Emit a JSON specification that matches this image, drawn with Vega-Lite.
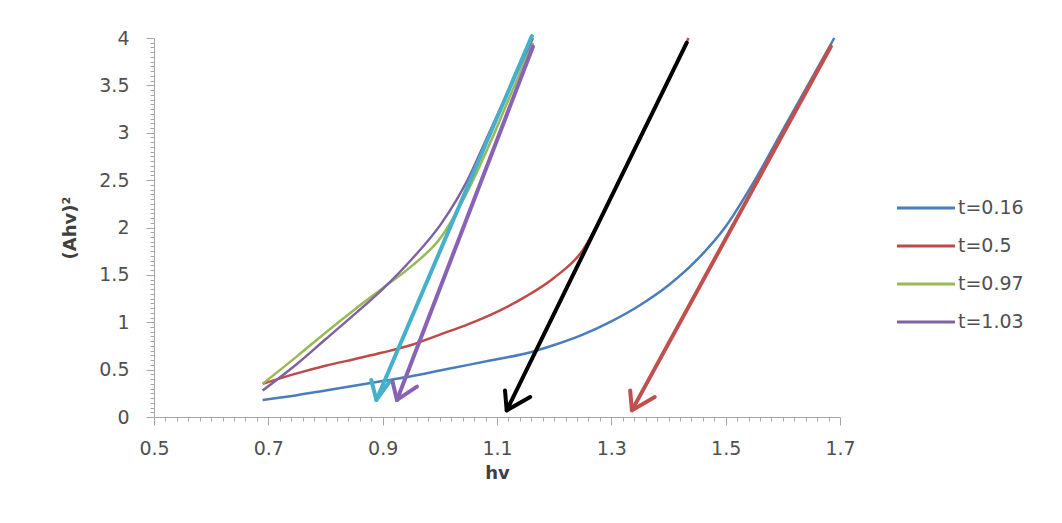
{
  "$schema": "https://vega.github.io/schema/vega-lite/v6.json",
  "width": 686,
  "height": 379,
  "autosize": {"type": "none"},
  "padding": {"left": 154, "top": 38, "right": 222, "bottom": 106},
  "background": "white",
  "config": {"view": {"stroke": null}, "font": "DejaVu Sans"},
  "datasets": {
    "curves": [
      {"series": "t=0.16", "x": 0.69, "y": 0.18}, {"series": "t=0.16", "x": 0.75, "y": 0.23}, {"series": "t=0.16", "x": 0.80, "y": 0.28}, {"series": "t=0.16", "x": 0.85, "y": 0.33}, {"series": "t=0.16", "x": 0.90, "y": 0.38}, {"series": "t=0.16", "x": 0.95, "y": 0.43}, {"series": "t=0.16", "x": 1.00, "y": 0.49}, {"series": "t=0.16", "x": 1.05, "y": 0.55}, {"series": "t=0.16", "x": 1.10, "y": 0.61}, {"series": "t=0.16", "x": 1.15, "y": 0.67}, {"series": "t=0.16", "x": 1.20, "y": 0.76}, {"series": "t=0.16", "x": 1.25, "y": 0.87}, {"series": "t=0.16", "x": 1.30, "y": 1.01}, {"series": "t=0.16", "x": 1.35, "y": 1.18}, {"series": "t=0.16", "x": 1.40, "y": 1.39}, {"series": "t=0.16", "x": 1.45, "y": 1.66}, {"series": "t=0.16", "x": 1.50, "y": 2.01}, {"series": "t=0.16", "x": 1.55, "y": 2.49}, {"series": "t=0.16", "x": 1.60, "y": 3.03}, {"series": "t=0.16", "x": 1.65, "y": 3.57}, {"series": "t=0.16", "x": 1.69, "y": 4.0},
      {"series": "t=0.5", "x": 0.69, "y": 0.35}, {"series": "t=0.5", "x": 0.75, "y": 0.46}, {"series": "t=0.5", "x": 0.80, "y": 0.54}, {"series": "t=0.5", "x": 0.85, "y": 0.61}, {"series": "t=0.5", "x": 0.90, "y": 0.68}, {"series": "t=0.5", "x": 0.95, "y": 0.76}, {"series": "t=0.5", "x": 1.00, "y": 0.87}, {"series": "t=0.5", "x": 1.05, "y": 0.98}, {"series": "t=0.5", "x": 1.10, "y": 1.11}, {"series": "t=0.5", "x": 1.15, "y": 1.27}, {"series": "t=0.5", "x": 1.20, "y": 1.47}, {"series": "t=0.5", "x": 1.25, "y": 1.76}, {"series": "t=0.5", "x": 1.28, "y": 2.08}, {"series": "t=0.5", "x": 1.30, "y": 2.33}, {"series": "t=0.5", "x": 1.35, "y": 2.94}, {"series": "t=0.5", "x": 1.40, "y": 3.55}, {"series": "t=0.5", "x": 1.435, "y": 4.0},
      {"series": "t=0.97", "x": 0.69, "y": 0.35}, {"series": "t=0.97", "x": 0.75, "y": 0.64}, {"series": "t=0.97", "x": 0.80, "y": 0.89}, {"series": "t=0.97", "x": 0.85, "y": 1.13}, {"series": "t=0.97", "x": 0.90, "y": 1.36}, {"series": "t=0.97", "x": 0.95, "y": 1.59}, {"series": "t=0.97", "x": 1.00, "y": 1.88}, {"series": "t=0.97", "x": 1.05, "y": 2.40}, {"series": "t=0.97", "x": 1.09, "y": 2.92}, {"series": "t=0.97", "x": 1.125, "y": 3.42}, {"series": "t=0.97", "x": 1.163, "y": 3.95},
      {"series": "t=1.03", "x": 0.69, "y": 0.28}, {"series": "t=1.03", "x": 0.75, "y": 0.56}, {"series": "t=1.03", "x": 0.80, "y": 0.82}, {"series": "t=1.03", "x": 0.85, "y": 1.08}, {"series": "t=1.03", "x": 0.90, "y": 1.35}, {"series": "t=1.03", "x": 0.95, "y": 1.66}, {"series": "t=1.03", "x": 1.00, "y": 2.02}, {"series": "t=1.03", "x": 1.03, "y": 2.30}, {"series": "t=1.03", "x": 1.05, "y": 2.52}, {"series": "t=1.03", "x": 1.07, "y": 2.78}, {"series": "t=1.03", "x": 1.10, "y": 3.18}, {"series": "t=1.03", "x": 1.163, "y": 4.0}
    ],
    "arrows": [
      {"arrow": "cyan", "part": "cyan-shaft", "o": 1, "x": 1.161, "y": 4.02}, {"arrow": "cyan", "part": "cyan-shaft", "o": 2, "x": 0.889, "y": 0.18},
      {"arrow": "cyan", "part": "cyan-head", "o": 1, "x": 0.880, "y": 0.39}, {"arrow": "cyan", "part": "cyan-head", "o": 2, "x": 0.889, "y": 0.18}, {"arrow": "cyan", "part": "cyan-head", "o": 3, "x": 0.913, "y": 0.38},
      {"arrow": "violet", "part": "violet-shaft", "o": 1, "x": 1.163, "y": 3.91}, {"arrow": "violet", "part": "violet-shaft", "o": 2, "x": 0.925, "y": 0.18},
      {"arrow": "violet", "part": "violet-head", "o": 1, "x": 0.917, "y": 0.38}, {"arrow": "violet", "part": "violet-head", "o": 2, "x": 0.925, "y": 0.18}, {"arrow": "violet", "part": "violet-head", "o": 3, "x": 0.960, "y": 0.32},
      {"arrow": "black", "part": "black-shaft", "o": 1, "x": 1.432, "y": 3.95}, {"arrow": "black", "part": "black-shaft", "o": 2, "x": 1.117, "y": 0.07},
      {"arrow": "black", "part": "black-head", "o": 1, "x": 1.114, "y": 0.28}, {"arrow": "black", "part": "black-head", "o": 2, "x": 1.117, "y": 0.07}, {"arrow": "black", "part": "black-head", "o": 3, "x": 1.158, "y": 0.21},
      {"arrow": "red", "part": "red-shaft", "o": 1, "x": 1.684, "y": 3.91}, {"arrow": "red", "part": "red-shaft", "o": 2, "x": 1.336, "y": 0.07},
      {"arrow": "red", "part": "red-head", "o": 1, "x": 1.333, "y": 0.28}, {"arrow": "red", "part": "red-head", "o": 2, "x": 1.336, "y": 0.07}, {"arrow": "red", "part": "red-head", "o": 3, "x": 1.376, "y": 0.21}
    ]
  },
  "encoding": {
    "x": {
      "field": "x", "type": "quantitative",
      "scale": {"domain": [0.5, 1.7], "nice": false, "zero": false},
      "axis": {
        "title": "hv", "titleFontSize": 18, "titleFontWeight": "bold", "titleColor": "#404040", "titlePadding": 6,
        "values": [0.5,0.52,0.54,0.56,0.58,0.6,0.62,0.64,0.66,0.68,0.7,0.72,0.74,0.76,0.78,0.8,0.82,0.84,0.86,0.88,0.9,0.92,0.94,0.96,0.98,1.0,1.02,1.04,1.06,1.08,1.1,1.12,1.14,1.16,1.18,1.2,1.22,1.24,1.26,1.28,1.3,1.32,1.34,1.36,1.38,1.4,1.42,1.44,1.46,1.48,1.5,1.52,1.54,1.56,1.58,1.6,1.62,1.64,1.66,1.68,1.7],
        "labelExpr": "(abs(datum.value*10 - round(datum.value*10)) < 0.001 && round(datum.value*10) % 2 == 1) ? format(datum.value, '.1f') : ''",
        "tickSize": {"condition": {"test": "abs(datum.value*10 - round(datum.value*10)) < 0.001 && round(datum.value*10) % 2 == 1", "value": 8}, "value": 4},
        "labelOverlap": false, "labelFlush": false, "labelBound": false,
        "labelFontSize": 19, "labelColor": "#505050", "labelPadding": 14,
        "domainColor": "#a6a6a6", "tickColor": "#a6a6a6", "grid": false
      }
    },
    "y": {
      "field": "y", "type": "quantitative",
      "scale": {"domain": [0, 4], "nice": false},
      "axis": {
        "title": "(Ahv)²", "titleFontSize": 18, "titleFontWeight": "bold", "titleColor": "#404040", "titlePadding": 19,
        "values": [0,0.05,0.1,0.15,0.2,0.25,0.3,0.35,0.4,0.45,0.5,0.55,0.6,0.65,0.7,0.75,0.8,0.85,0.9,0.95,1,1.05,1.1,1.15,1.2,1.25,1.3,1.35,1.4,1.45,1.5,1.55,1.6,1.65,1.7,1.75,1.8,1.85,1.9,1.95,2,2.05,2.1,2.15,2.2,2.25,2.3,2.35,2.4,2.45,2.5,2.55,2.6,2.65,2.7,2.75,2.8,2.85,2.9,2.95,3,3.05,3.1,3.15,3.2,3.25,3.3,3.35,3.4,3.45,3.5,3.55,3.6,3.65,3.7,3.75,3.8,3.85,3.9,3.95,4],
        "labelExpr": "abs(datum.value*2 - round(datum.value*2)) < 0.001 ? format(datum.value, '.1~f') : ''",
        "tickSize": {"condition": {"test": "abs(datum.value*2 - round(datum.value*2)) < 0.001", "value": 8}, "value": 4},
        "labelOverlap": false, "labelFlush": false, "labelBound": false,
        "labelFontSize": 19, "labelColor": "#505050", "labelPadding": 17,
        "domainColor": "#a6a6a6", "tickColor": "#a6a6a6", "grid": false
      }
    }
  },
  "layer": [
    {
      "data": {"name": "curves"},
      "mark": {"type": "line", "strokeWidth": 2.5, "interpolate": "monotone"},
      "encoding": {
        "color": {
          "field": "series", "type": "nominal",
          "scale": {"domain": ["t=0.16", "t=0.5", "t=0.97", "t=1.03"], "range": ["#4a7ebb", "#be4b48", "#98b954", "#7e62a1"]},
          "legend": {
            "orient": "none", "legendX": 756, "legendY": 154, "title": null,
            "symbolType": "M-2,0L2,0", "symbolSize": 841, "symbolStrokeWidth": 3,
            "labelFontSize": 19, "labelColor": "#505050", "labelOffset": 16, "rowPadding": 12
          }
        }
      }
    },
    {
      "data": {"name": "arrows"},
      "mark": {"type": "line", "strokeCap": "round", "strokeJoin": "round"},
      "encoding": {
        "color": {
          "field": "arrow", "type": "nominal",
          "scale": {"domain": ["black", "red", "violet", "cyan"], "range": ["#000000", "#c0504d", "#8a62b4", "#45b0cc"]},
          "legend": null
        },
        "strokeWidth": {
          "field": "arrow", "type": "nominal",
          "scale": {"domain": ["black", "red", "violet", "cyan"], "range": [4, 4, 4, 5.5]},
          "legend": null
        },
        "detail": {"field": "part"},
        "order": {"field": "o", "type": "quantitative"}
      }
    }
  ],
  "resolve": {"scale": {"color": "independent", "strokeWidth": "independent"}}
}
